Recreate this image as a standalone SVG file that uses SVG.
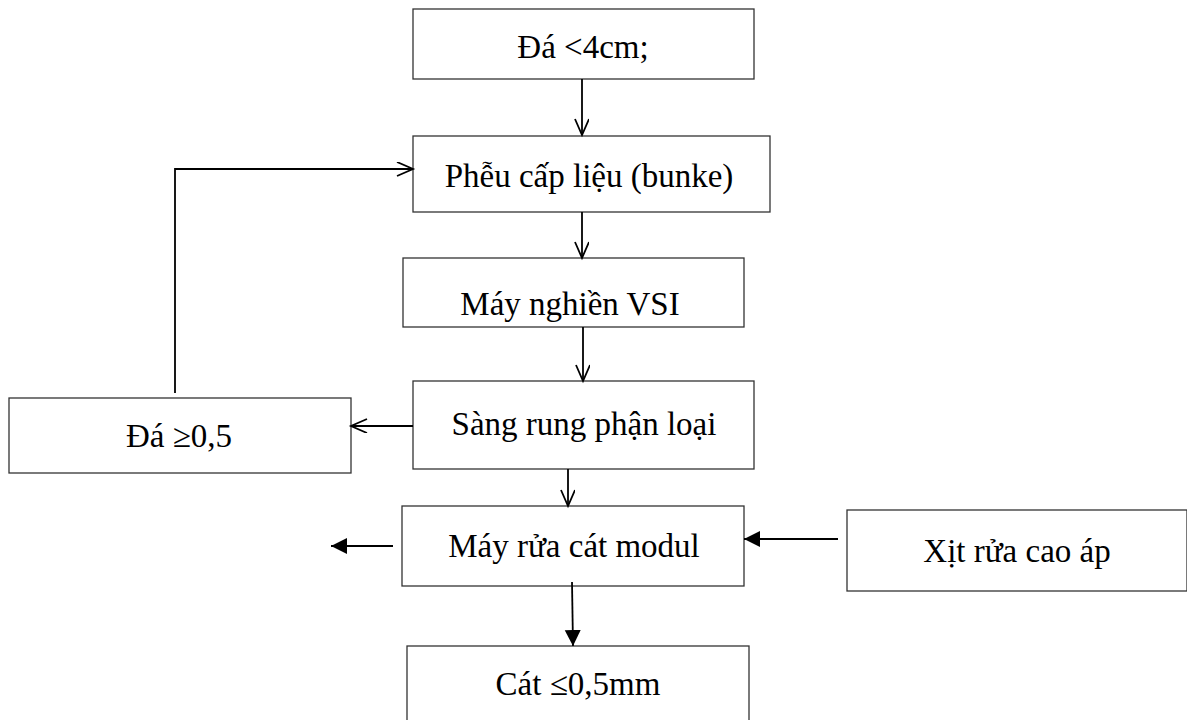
<svg xmlns="http://www.w3.org/2000/svg" width="1187" height="720" viewBox="0 0 1187 720">
<style>
.box{fill:#fff;stroke:#333;stroke-width:1.3}
.lbl{font-family:"Liberation Serif","Times New Roman",serif;font-size:33px;fill:#000;text-anchor:middle}
.ln{fill:none;stroke:#000;stroke-width:1.8}
</style>
<defs>
<marker id="open" markerUnits="userSpaceOnUse" markerWidth="22" markerHeight="20" refX="17" refY="7" orient="auto">
<path d="M1,0 L17,7 L1,14" fill="none" stroke="#000" stroke-width="1.8"/>
</marker>
<marker id="fill" markerUnits="userSpaceOnUse" markerWidth="20" markerHeight="20" refX="16" refY="8" orient="auto">
<path d="M0,0 L16,8 L0,16 Z" fill="#000"/>
</marker>
</defs>
<rect width="1187" height="720" fill="#fff"/>
<g id="n1"><rect class="box" x="413" y="9" width="341" height="70"/><text class="lbl" x="583" y="58">Đá &lt;4cm;</text></g>
<g id="n2"><rect class="box" x="413" y="136" width="357" height="76"/><text class="lbl" x="589" y="187">Phễu cấp liệu (bunke)</text></g>
<g id="n3"><rect class="box" x="403" y="258" width="341" height="69"/><text class="lbl" x="570" y="315">Máy nghiền VSI</text></g>
<g id="n4"><rect class="box" x="413" y="381" width="341" height="88"/><text class="lbl" x="584" y="435">Sàng rung phận loại</text></g>
<g id="n5"><rect class="box" x="9" y="398" width="342" height="75"/><text class="lbl" x="179" y="447">Đá ≥0,5</text></g>
<g id="n6"><rect class="box" x="402" y="506" width="342" height="80"/><text class="lbl" x="574" y="557">Máy rửa cát modul</text></g>
<g id="n7"><rect class="box" x="847" y="510" width="340" height="81"/><text class="lbl" x="1017" y="562">Xịt rửa cao áp</text></g>
<g id="n8"><rect class="box" x="407" y="646" width="342" height="80"/><text class="lbl" x="578" y="695">Cát ≤0,5mm</text></g>
<g id="connectors">
<path class="ln" d="M582,79 L582,135" marker-end="url(#open)"/>
<path class="ln" d="M582,212 L582,258" marker-end="url(#open)"/>
<path class="ln" d="M583,327 L583,381" marker-end="url(#open)"/>
<path class="ln" d="M413,426 L351,426" marker-end="url(#open)"/>
<path class="ln" d="M175,393 L175,169 L413,169" marker-end="url(#open)"/>
<path class="ln" d="M568,469 L568,506" marker-end="url(#open)"/>
<path class="ln" d="M393,546 L331,546" marker-end="url(#fill)"/>
<path class="ln" d="M838,539 L744,539" marker-end="url(#fill)"/>
<path class="ln" d="M572,582 L573,646" marker-end="url(#fill)"/>
</g>
</svg>
